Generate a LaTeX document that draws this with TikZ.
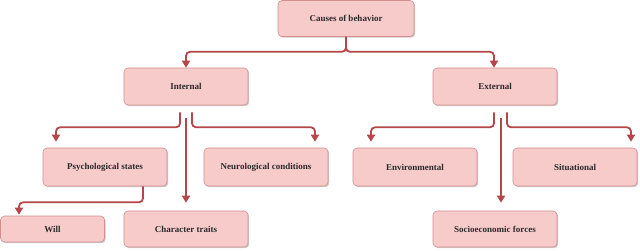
\documentclass[tikz,border=0pt]{standalone}
\usepackage{fontspec}
\setmainfont{Liberation Serif}
\usetikzlibrary{arrows.meta,shadows}
\definecolor{boxfill}{HTML}{F8CBCB}
\definecolor{boxline}{HTML}{D58E8E}
\definecolor{arr}{HTML}{B5474A}
\definecolor{txt}{HTML}{2A2A2A}
\begin{document}
\begin{tikzpicture}[x=1pt,y=-1pt,
  box/.style={draw=boxline,fill=boxfill,rounded corners=4pt,line width=0.6pt,
    font=\fontsize{9}{11}\selectfont\bfseries,text=txt,inner sep=0pt,
    drop shadow={shadow xshift=1.2pt,shadow yshift=-1.2pt,fill=black!40,opacity=0.5}},
  conn/.style={draw=arr,line width=1.8pt,rounded corners=4pt,
    -{Triangle[width=8pt,length=7pt]}}]
\useasboundingbox (0,0) rectangle (640,251);
\fill[white] (0,0) rectangle (640,251);
\node[box,minimum width=136pt,minimum height=36pt] (root) at (346,18.5) {Causes of behavior};
\node[box,minimum width=124pt,minimum height=37pt] (int) at (186,86.5) {Internal};
\node[box,minimum width=124pt,minimum height=37pt] (ext) at (495,86.5) {External};
\node[box,minimum width=124pt,minimum height=38pt] (psych) at (105,167) {Psychological states};
\node[box,minimum width=124pt,minimum height=38pt] (neuro) at (266,167) {Neurological conditions};
\node[box,minimum width=124pt,minimum height=38pt] (env) at (415,167) {Environmental};
\node[box,minimum width=124pt,minimum height=38pt] (sit) at (575,167) {Situational};
\node[box,minimum width=104pt,minimum height=26pt] (will) at (52.5,229) {Will};
\node[box,minimum width=124pt,minimum height=36pt] (char) at (186,229) {Character traits};
\node[box,minimum width=124pt,minimum height=36pt] (socio) at (495,229) {Socioeconomic forces};
% root
\draw[conn] (root.south) -- ++(0,15) -| (int.north);
\draw[conn] (root.south) -- ++(0,15) -| ([xshift=-1pt]ext.north);
% internal
\draw[conn,shorten <=7pt,shorten >=6pt] ([xshift=-6pt]int.south) -- ++(0,22) -| ([xshift=-49pt]psych.north);
\draw[conn,shorten <=13pt,shorten >=8pt] (int.south) -- (char.north);
\draw[conn,shorten <=7pt,shorten >=6pt] ([xshift=6pt]int.south) -- ++(0,22) -| ([xshift=49pt]neuro.north);
% psych -> will
\draw[conn,shorten >=1pt] ([xshift=38pt]psych.south) -- ++(0,16) -| ([xshift=-33.5pt]will.north);
% external
\draw[conn,shorten <=7pt,shorten >=6pt] ([xshift=-1pt]ext.south) -- ++(0,22) -| ([xshift=-44pt]env.north);
\draw[conn,shorten <=13pt,shorten >=8pt] ([xshift=6pt]ext.south) -- ([xshift=6pt]socio.north);
\draw[conn,shorten <=7pt,shorten >=6pt] ([xshift=12pt]ext.south) -- ++(0,22) -| ([xshift=56pt]sit.north);
\end{tikzpicture}
\end{document}
